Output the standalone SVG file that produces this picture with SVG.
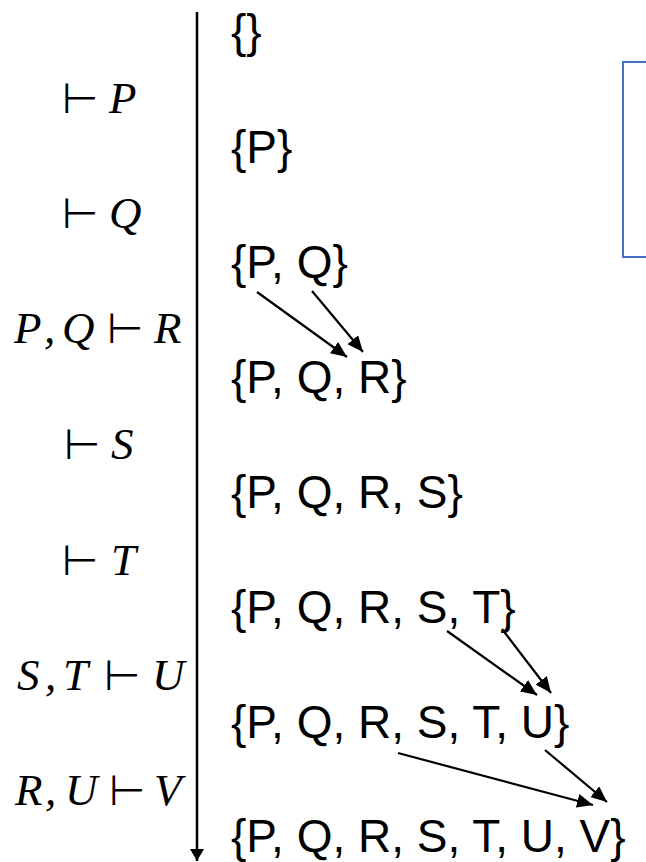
<svg xmlns="http://www.w3.org/2000/svg" width="646" height="862" viewBox="0 0 646 862">
<style>
.set{font-family:"Liberation Sans",Arial,sans-serif;font-size:46px;fill:#000}
.m{font-family:"Liberation Serif","Times New Roman",serif;font-style:italic;font-size:45px;fill:#000}
.t{font-family:"DejaVu Sans",sans-serif;font-style:normal;font-size:42px}
.ln{stroke:#000;stroke-width:2.2;fill:none}
</style>
<defs>
<marker id="ah" markerUnits="userSpaceOnUse" markerWidth="17" markerHeight="14" refX="16" refY="7" orient="auto" viewBox="0 0 17 14">
<path d="M0,0 L16,7 L0,14 z" fill="#000"/>
</marker>
<marker id="ax" markerUnits="userSpaceOnUse" markerWidth="14" markerHeight="14" refX="12" refY="7" orient="auto" viewBox="0 0 14 14">
<path d="M0,0 L12,7 L0,14 z" fill="#000"/>
</marker>
</defs>
<rect x="623" y="62" width="40" height="195" fill="none" stroke="#4472C4" stroke-width="2"/>
<g id="axis"><line x1="197" y1="12" x2="197" y2="861" stroke="#000" stroke-width="2.5" marker-end="url(#ax)"/></g>
<g id="s0"><text class="set" x="231" y="47">{}</text></g>
<g id="s1"><text class="set" x="231" y="163">{P}</text></g>
<g id="s2"><text class="set" x="231" y="278">{P, Q}</text></g>
<g id="s3"><text class="set" x="231" y="393">{P, Q, R}</text></g>
<g id="s4"><text class="set" x="231" y="508">{P, Q, R, S}</text></g>
<g id="s5"><text class="set" x="231" y="623">{P, Q, R, S, T}</text></g>
<g id="s6"><text class="set" x="231" y="738">{P, Q, R, S, T, U}</text></g>
<g id="s7"><text class="set" x="231" y="852">{P, Q, R, S, T, U, V}</text></g>
<g id="r1"><text class="m" y="113"><tspan class="t" x="62">⊢</tspan><tspan x="109">P</tspan></text></g>
<g id="r2"><text class="m" y="228"><tspan class="t" x="62">⊢</tspan><tspan x="109">Q</tspan></text></g>
<g id="r3"><text class="m" y="343"><tspan x="14">P</tspan><tspan x="44">,</tspan><tspan x="62">Q</tspan><tspan class="t" x="107">⊢</tspan><tspan x="154">R</tspan></text></g>
<g id="r4"><text class="m" y="459"><tspan class="t" x="64">⊢</tspan><tspan x="111">S</tspan></text></g>
<g id="r5"><text class="m" y="575"><tspan class="t" x="62">⊢</tspan><tspan x="111">T</tspan></text></g>
<g id="r6"><text class="m" y="690"><tspan x="17">S</tspan><tspan x="45">,</tspan><tspan x="63">T</tspan><tspan class="t" x="104">⊢</tspan><tspan x="152">U</tspan></text></g>
<g id="r7"><text class="m" y="805"><tspan x="15">R</tspan><tspan x="45">,</tspan><tspan x="65">U</tspan><tspan class="t" x="109">⊢</tspan><tspan x="154">V</tspan></text></g>
<g id="connectors">
<line class="ln" x1="257" y1="292" x2="347" y2="357" marker-end="url(#ah)"/>
<line class="ln" x1="312" y1="291" x2="363" y2="352" marker-end="url(#ah)"/>
<line class="ln" x1="447" y1="631" x2="537" y2="695" marker-end="url(#ah)"/>
<line class="ln" x1="502" y1="629" x2="551" y2="693" marker-end="url(#ah)"/>
<line class="ln" x1="398" y1="753" x2="593" y2="805" marker-end="url(#ah)"/>
<line class="ln" x1="545" y1="750" x2="607" y2="802" marker-end="url(#ah)"/>
</g>
</svg>
